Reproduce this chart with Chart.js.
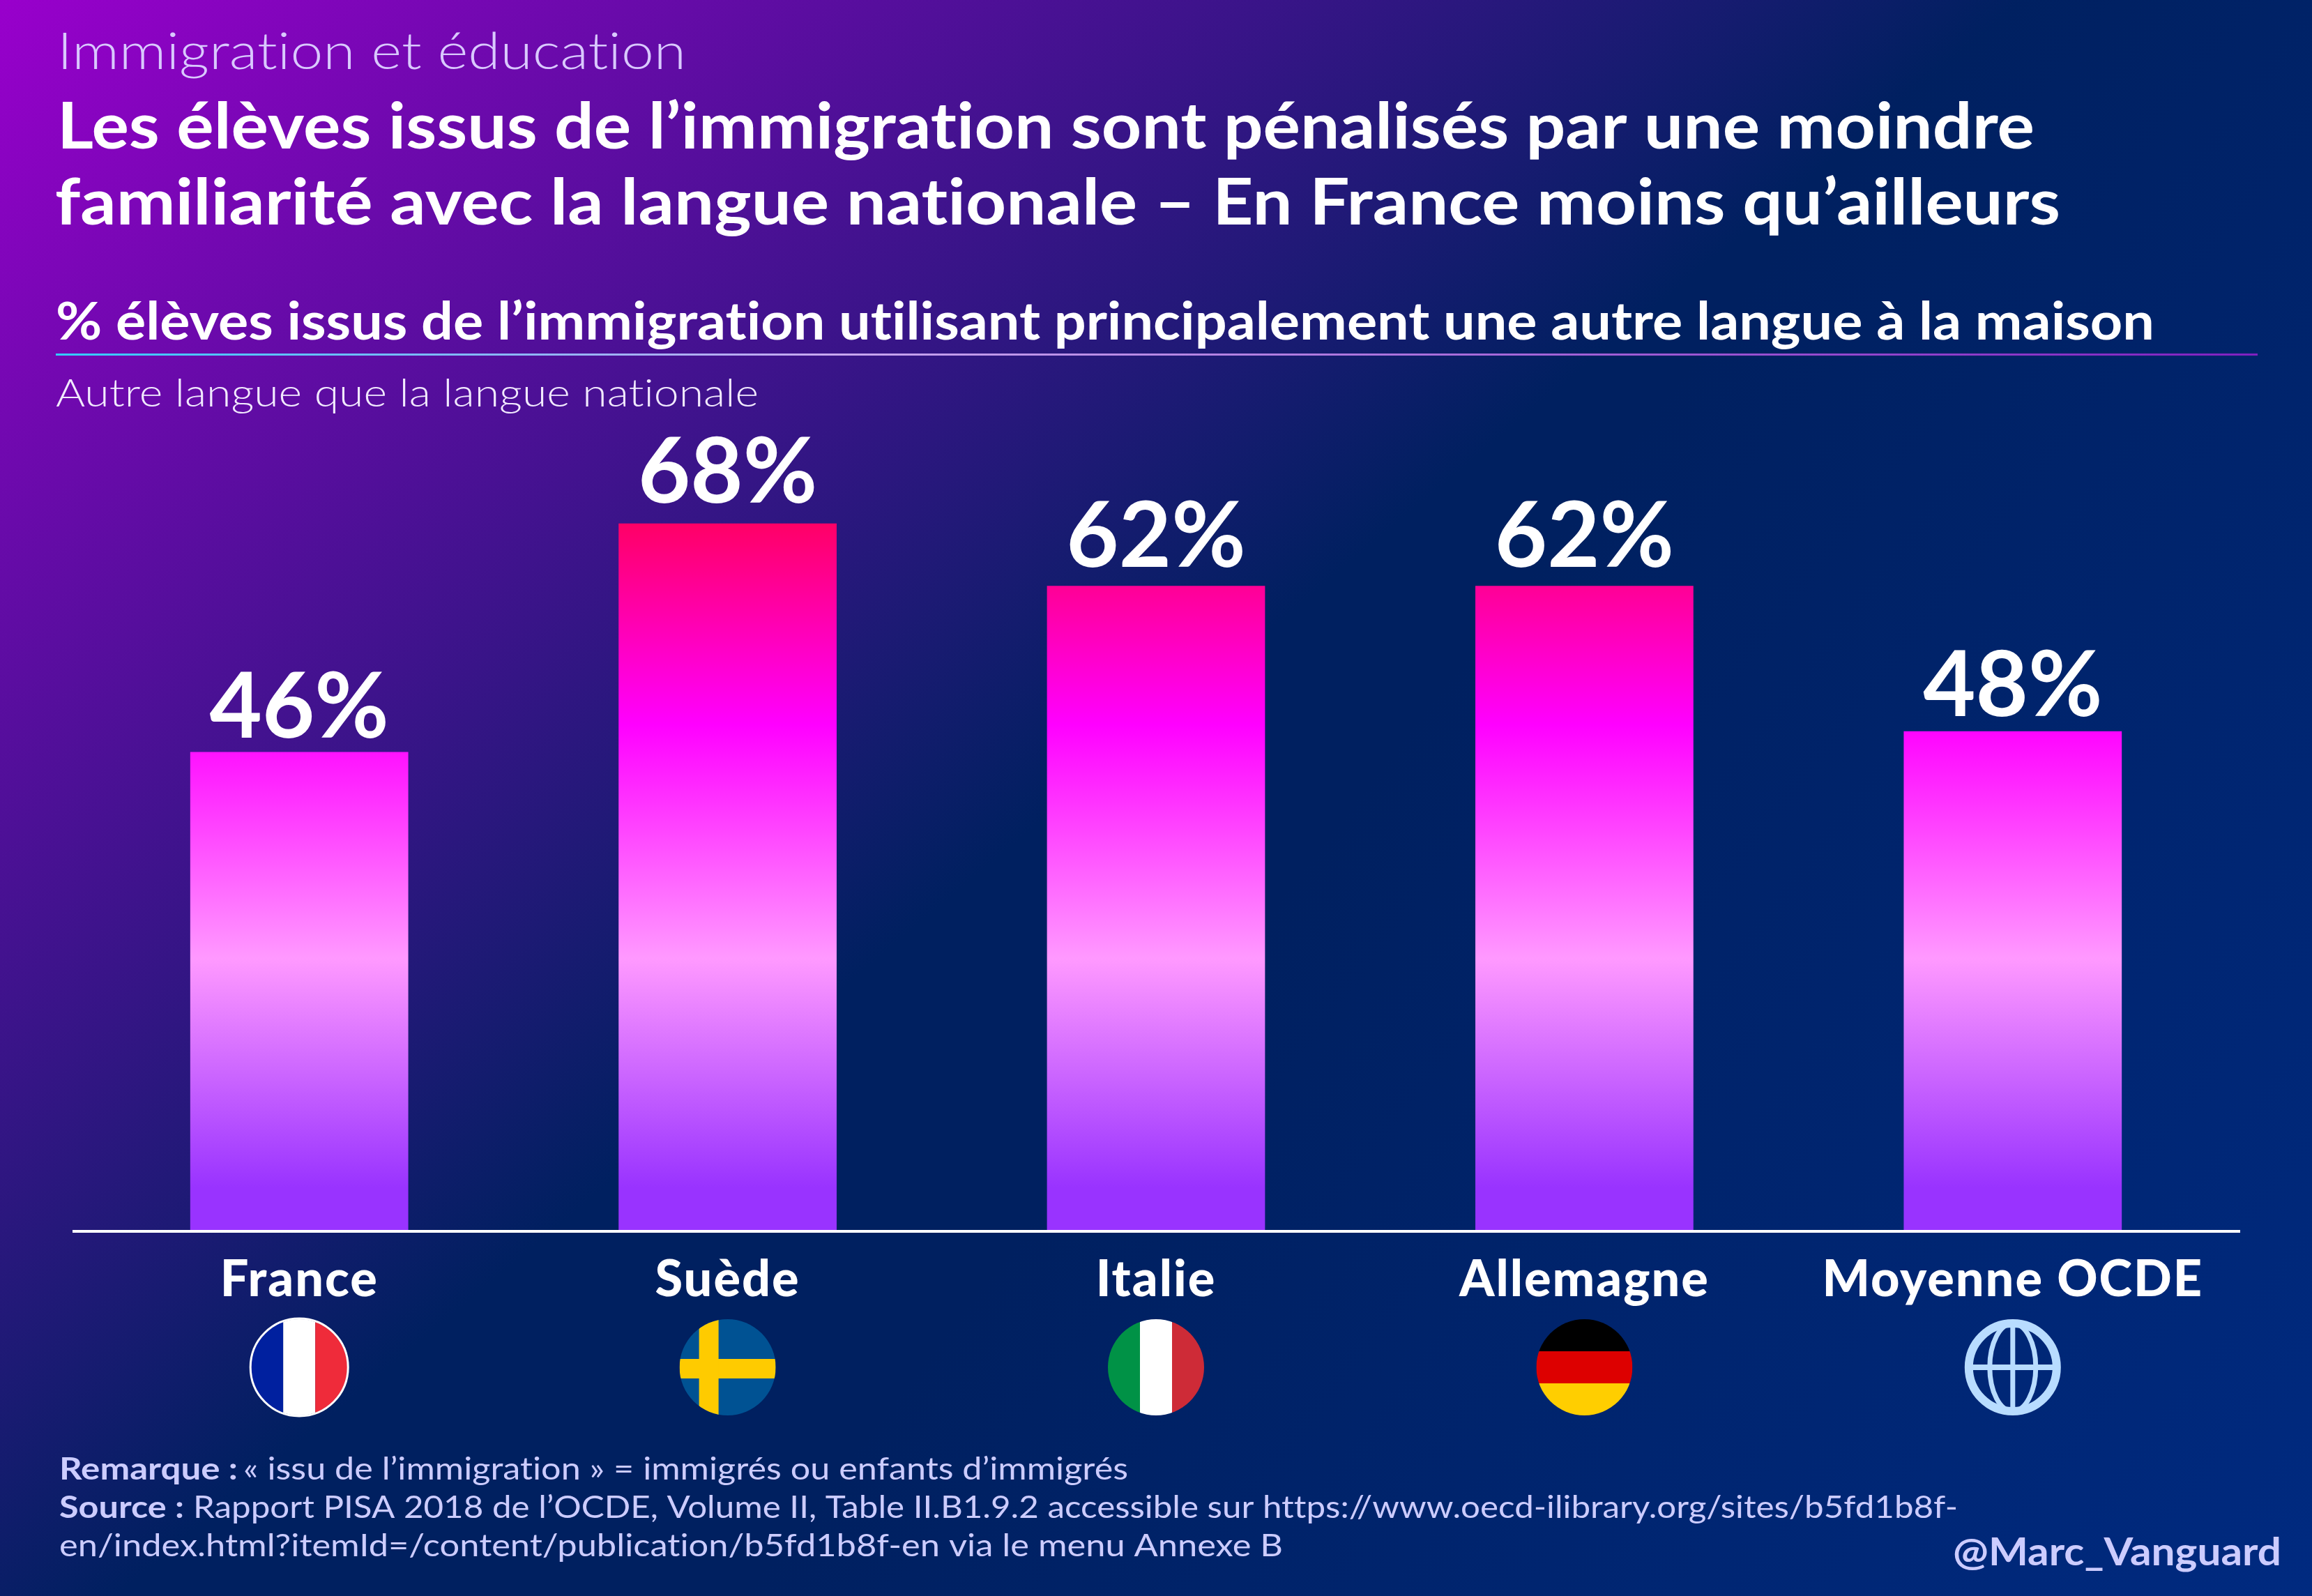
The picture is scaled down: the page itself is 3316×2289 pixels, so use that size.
<!DOCTYPE html>
<html lang="fr">
<head>
<meta charset="utf-8">
<title>Immigration et éducation</title>
<script src="https://cdn.jsdelivr.net/npm/chart.js@4"></script>
<style>
    html, body { margin: 0; padding: 0; background: #002060; }
    canvas { display: block; }
</style>
</head>
<body>
<canvas id="chart" width="3316" height="2289"></canvas>
<script>
const categories = ['France', 'Suède', 'Italie', 'Allemagne', 'Moyenne OCDE'];
const shares = [46, 68, 62, 62, 48];
const flags = ['france', 'sweden', 'italy', 'germany', 'globe'];

const FONT = 'Lato, sans-serif';

// [text, x, baseline, target width, font, colour]
const textBlocks = [
    ['Immigration et éducation', 82, 99, 902, `300 73px ${FONT}`, '#d9c9ff'],
    ['Les élèves issus de l’immigration sont pénalisés par une moindre', 82, 213, 2836, `700 91px ${FONT}`, '#ffffff'],
    ['familiarité avec la langue nationale – En France moins qu’ailleurs', 79, 322, 2876, `700 91px ${FONT}`, '#ffffff'],
    ['% élèves issus de l’immigration utilisant principalement une autre langue à la maison', 80, 487, 3010, `700 74px ${FONT}`, '#ffffff'],
    ['Autre langue que la langue nationale', 80, 583, 1008, `300 56px ${FONT}`, '#f2eaff'],
    ['Remarque :', 85, 2122, 256, `700 44px ${FONT}`, '#ccccff'],
    ['« issu de l’immigration » = immigrés ou enfants d’immigrés', 349, 2122, 1269, `400 44px ${FONT}`, '#ccccff'],
    ['Source :', 85, 2177, 179, `700 44px ${FONT}`, '#ccccff'],
    ['Rapport PISA 2018 de l’OCDE, Volume II, Table II.B1.9.2 accessible sur https://www.oecd-ilibrary.org/sites/b5fd1b8f-', 277, 2177, 2531, `400 44px ${FONT}`, '#ccccff'],
    ['en/index.html?itemId=/content/publication/b5fd1b8f-en via le menu Annexe B', 85, 2232, 1755, `400 44px ${FONT}`, '#ccccff'],
    ['@Marc_Vanguard', 2801, 2245, 471, `700 55px ${FONT}`, '#ccccff']
];

function fitText(ctx, text, x, y, width, font, color) {
    ctx.save();
    ctx.font = font;
    ctx.fillStyle = color;
    ctx.textAlign = 'left';
    ctx.textBaseline = 'alphabetic';
    ctx.letterSpacing = '0.01px'; // stops Lato joining "ti"
    const natural = ctx.measureText(text).width;
    ctx.translate(x, y);
    ctx.scale(width / natural, 1);
    ctx.fillText(text, 0, 0);
    ctx.restore();
}

function drawFlag(ctx, kind, cx, cy, r) {
    ctx.save();
    if (kind === 'globe') {
        ctx.strokeStyle = '#b8dcff';
        ctx.lineWidth = 12;
        ctx.beginPath();
        ctx.arc(cx, cy, r - 6, 0, Math.PI * 2);
        ctx.stroke();
        ctx.lineWidth = 7;
        ctx.beginPath();
        ctx.ellipse(cx, cy, 33, r - 6, 0, 0, Math.PI * 2);
        ctx.moveTo(cx, cy - r + 6);
        ctx.lineTo(cx, cy + r - 6);
        ctx.stroke();
        ctx.lineWidth = 8;
        ctx.beginPath();
        ctx.moveTo(cx - r + 6, cy);
        ctx.lineTo(cx + r - 6, cy);
        ctx.stroke();
        ctx.restore();
        return;
    }
    ctx.beginPath();
    ctx.arc(cx, cy, r, 0, Math.PI * 2);
    ctx.clip();
    const rect = (c, x, y, w, h) => { ctx.fillStyle = c; ctx.fillRect(x, y, w, h); };
    const left = cx - r, top = cy - r, d = r * 2;
    if (kind === 'france') {
        rect('#00209f', left, top, d / 3, d);
        rect('#ffffff', left + d / 3, top, d / 3, d);
        rect('#ef2b3a', left + 2 * d / 3, top, d / 3, d);
    } else if (kind === 'italy') {
        rect('#009246', left, top, d / 3, d);
        rect('#ffffff', left + d / 3, top, d / 3, d);
        rect('#ce2b37', left + 2 * d / 3, top, d / 3, d);
    } else if (kind === 'germany') {
        rect('#000000', left, top, d, d / 3);
        rect('#dd0000', left, top + d / 3, d, d / 3);
        rect('#ffce00', left, top + 2 * d / 3, d, d / 3);
    } else if (kind === 'sweden') {
        rect('#005293', left, top, d, d);
        rect('#fecb00', left, cy - 12, d, 28);
        rect('#fecb00', cx - 41, top, 28, d);
    }
    ctx.restore();
    if (kind === 'france') {
        ctx.strokeStyle = '#ffffff';
        ctx.lineWidth = 3;
        ctx.beginPath();
        ctx.arc(cx, cy, r + 1, 0, Math.PI * 2);
        ctx.stroke();
    }
}

const background = {
    id: 'background',
    beforeDraw(chart) {
        const { ctx, width, height } = chart;
        const bg = ctx.createLinearGradient(0, 0, 1196, 1428);
        bg.addColorStop(0, '#9900cc');
        bg.addColorStop(1, '#002060');
        ctx.fillStyle = bg;
        ctx.fillRect(0, 0, width, height);
        const corner = ctx.createLinearGradient(1900, 1200, 3316, 2289);
        corner.addColorStop(0, 'rgba(0,42,128,0)');
        corner.addColorStop(1, 'rgba(0,42,128,1)');
        ctx.fillStyle = corner;
        ctx.fillRect(0, 0, width, height);
        // picked up by the x axis labels, drawn next
        ctx.letterSpacing = '2px';
    }
};

const decorations = {
    id: 'decorations',
    afterDraw(chart) {
        const { ctx } = chart;
        ctx.letterSpacing = '0px';
        textBlocks.forEach(b => fitText(ctx, ...b));

        // rule under the subtitle
        const rule = ctx.createLinearGradient(80, 0, 3238, 0);
        rule.addColorStop(0, '#33ccff');
        rule.addColorStop(0.35, '#c8a8f0');
        rule.addColorStop(1, '#8020c0');
        ctx.fillStyle = rule;
        ctx.fillRect(80, 507, 3158, 3);

        // baseline runs a little wider than the category band
        const y0 = chart.scales.y.getPixelForValue(0);
        ctx.fillStyle = '#ffffff';
        ctx.fillRect(104, y0, 3109, 4);

        // value labels and flags follow the bars
        const meta = chart.getDatasetMeta(0);
        ctx.textAlign = 'center';
        ctx.textBaseline = 'alphabetic';
        ctx.font = `700 130px ${FONT}`;
        meta.data.forEach((bar, i) => {
            const gap = (y0 - bar.y) * 0.027 + 2.5;
            ctx.fillStyle = '#ffffff';
            ctx.fillText(shares[i] + '%', bar.x, bar.y - gap);
            drawFlag(ctx, flags[i], bar.x, 1961, 69);
        });
    }
};

new Chart(document.getElementById('chart').getContext('2d'), {
    type: 'bar',
    data: {
        labels: categories,
        datasets: [{
            data: shares,
            barPercentage: 0.509,
            categoryPercentage: 1,
            backgroundColor(c) {
                const { chartArea, scales } = c.chart;
                if (!chartArea) return '#ff00ff';
                const g = c.chart.ctx.createLinearGradient(0, scales.y.getPixelForValue(0), 0, scales.y.getPixelForValue(68));
                g.addColorStop(0, '#9933ff');
                g.addColorStop(0.06, '#9933ff');
                g.addColorStop(0.384, '#ff99ff');
                g.addColorStop(0.715, '#ff00ff');
                g.addColorStop(1, '#ff0066');
                return g;
            }
        }]
    },
    options: {
        responsive: false,
        animation: false,
        devicePixelRatio: 1,
        layout: { padding: { left: 122, right: 122, top: 572, bottom: 0 } },
        plugins: {
            legend: { display: false },
            tooltip: { enabled: false }
        },
        scales: {
            x: {
                grid: { display: false },
                border: { display: false },
                afterFit(scale) { scale.height = 525; },
                ticks: {
                    color: '#ffffff',
                    padding: 21,
                    maxRotation: 0,
                    autoSkip: false,
                    font: { family: FONT, size: 72, weight: 900 }
                }
            },
            y: {
                display: false,
                min: 0,
                max: 80
            }
        }
    },
    plugins: [background, decorations]
});
</script>
</body>
</html>
